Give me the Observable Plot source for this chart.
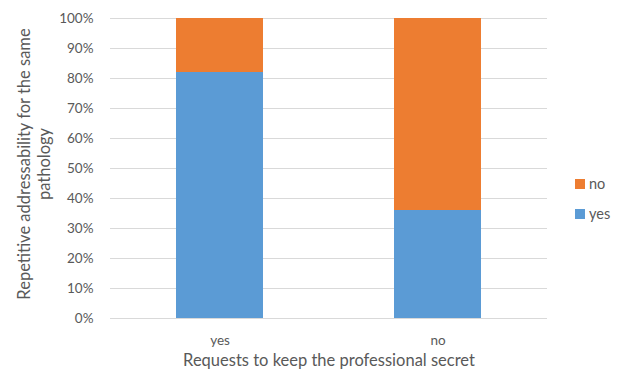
<!DOCTYPE html>
<html>
<head>
<meta charset="utf-8">
<script src="https://cdn.jsdelivr.net/npm/d3@7"></script>
<script src="https://cdn.jsdelivr.net/npm/@observablehq/plot@0.6"></script>
<style>
  html, body { margin: 0; padding: 0; background: #fff; }
  #chart svg { display: block; }
</style>
</head>
<body>
<div id="chart"></div>
<script>
// Requests to keep the professional secret (x) vs repeated consultation share (stacked to 100%)
const categories = ["yes", "no"];
const seriesNames = ["yes", "no"];
const yesShare = [0.82, 0.36];
const noShare = [0.18, 0.64];
const seriesColors = ["#5B9BD5", "#ED7D31"];
const yTicks = [0, 0.1, 0.2, 0.3, 0.4, 0.5, 0.6, 0.7, 0.8, 0.9, 1.0];
const xTitle = "Requests to keep the professional secret";
const yTitleLines = ["Repetitive addressability for the same", "pathology"];

const rows = [];
categories.forEach((c, i) => {
  rows.push({category: c, series: seriesNames[0], value: yesShare[i]});
  rows.push({category: c, series: seriesNames[1], value: noShare[i]});
});

const font = "Lato, 'Open Sans', sans-serif";
const textColor = "#595959";

const plot = Plot.plot({
  width: 619,
  height: 376,
  marginLeft: 110,
  marginRight: 72,
  marginTop: 18,
  marginBottom: 58,
  style: {fontFamily: font, fontSize: "13px", color: textColor, background: "#fff"},
  x: {domain: categories, paddingInner: 0.6, paddingOuter: 0.3, label: null},
  y: {domain: [0, 1], label: null},
  color: {domain: seriesNames, range: seriesColors},
  marks: [
    Plot.gridY(yTicks, {stroke: "#d9d9d9", strokeOpacity: 1, strokeWidth: 1}),
    Plot.axisY(yTicks, {tickSize: 0, tickPadding: 17, tickFormat: d3.format(".0%"), fill: textColor, fontSize: 13.5}),
    Plot.axisX({tickSize: 0, tickPadding: 17, fill: textColor, fontSize: 13.5}),
    Plot.barY(rows, Plot.stackY({x: "category", y: "value", fill: "series", order: null})),
    Plot.text([xTitle], {frameAnchor: "bottom", dy: 47, text: d => d, fill: textColor, fontSize: 16.5}),
  ]
});

const svg = d3.select(plot);

// rotated two-line y-axis title
const yTitle = svg.append("text")
  .attr("transform", "translate(34,164) rotate(-90)")
  .attr("text-anchor", "middle")
  .attr("fill", textColor)
  .attr("font-family", font)
  .attr("font-size", 16.5);
yTitleLines.forEach((line, i) => {
  yTitle.append("tspan")
    .attr("x", 0)
    .attr("y", i === 0 ? -4 : 16)
    .text(line);
});

// legend: series listed top to bottom in stack order (top series first)
const color = plot.scale("color");
const legendItems = seriesNames.slice().reverse();
legendItems.forEach((name, i) => {
  const y = 184 + i * 30;
  svg.append("rect")
    .attr("x", 575).attr("y", y - 5)
    .attr("width", 10).attr("height", 10)
    .attr("fill", color.apply(name));
  svg.append("text")
    .attr("x", 589).attr("y", y)
    .attr("dy", "0.35em")
    .attr("text-anchor", "start")
    .attr("fill", textColor)
    .attr("font-family", font)
    .attr("font-size", 14.5)
    .text(name);
});

document.getElementById("chart").appendChild(plot);
</script>
</body>
</html>
